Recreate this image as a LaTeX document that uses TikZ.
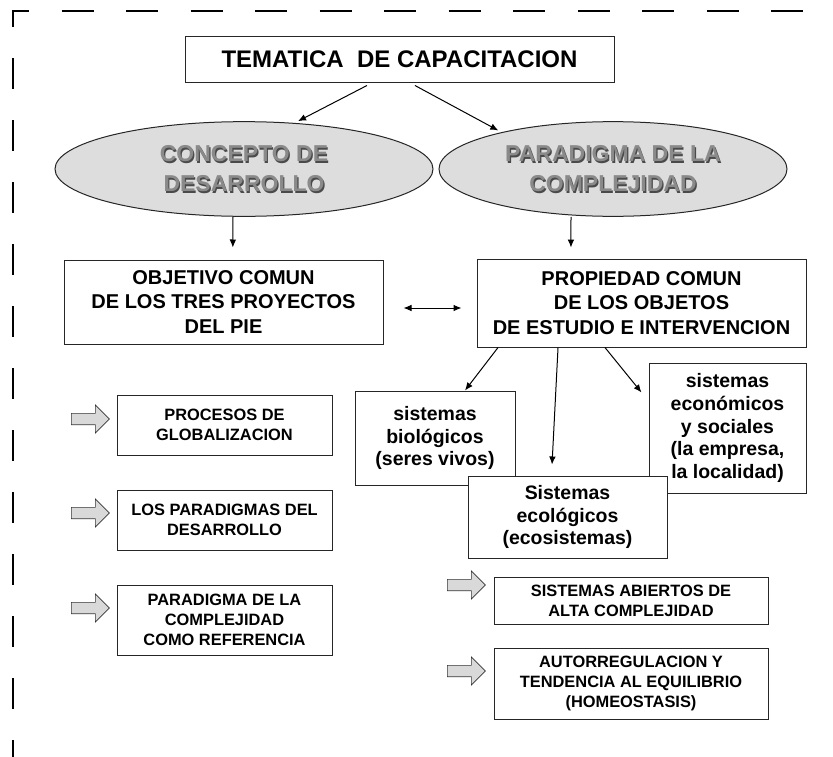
\documentclass[tikz,border=0pt]{standalone}
\usepackage{fontspec}
\setmainfont{Liberation Sans}
\usetikzlibrary{shapes,arrows.meta,calc}

\definecolor{bubblegray}{HTML}{DDDDDD}
\definecolor{labelgray}{HTML}{8A8A8A}
\definecolor{labelshade}{HTML}{4A4A4A}
\definecolor{arrowgray}{HTML}{D9D9D9}

% gray ellipse text with a dark drop shadow
\newcommand{\bubblelabel}[2]{%
  \node[shadetext] (#1-s) at ([xshift=0.9pt,yshift=-0.9pt]#1.center) {#2};
  \node[graytext] (#1-t) at (#1.center) {#2};}

\begin{document}
\begin{tikzpicture}[x=0.75pt,y=-0.75pt,
    box/.style={draw=black!85,line width=0.75pt,fill=white,align=center,inner sep=0pt},
    bubble/.style={ellipse,draw=black!85,line width=0.75pt,fill=bubblegray,inner sep=0pt},
    graytext/.style={align=center,text=labelgray,font=\fontsize{17.25}{22.5}\selectfont\bfseries},
    shadetext/.style={align=center,text=labelshade,font=\fontsize{17.25}{22.5}\selectfont\bfseries},
    tfont/.style={font=\fontsize{18}{21}\selectfont\bfseries},
    mfont/.style={font=\fontsize{15}{18.5}\selectfont\bfseries},
    sfont/.style={font=\fontsize{14.6}{17}\selectfont\bfseries},
    xfont/.style={font=\fontsize{12.3}{15}\selectfont\bfseries},
    arr/.style={-{Latex[length=6pt,width=5pt]},line width=0.75pt},
    arr2/.style={{Latex[length=6pt,width=5pt]}-{Latex[length=6pt,width=5pt]},line width=0.75pt},
    garrow/.style={single arrow,draw=black!80,fill=arrowgray,line width=0.5pt,
      inner xsep=0pt,inner ysep=4pt,minimum height=28.5pt,
      single arrow head extend=6.25pt,single arrow head indent=0pt},
    frame/.style={line width=1.5pt}]
    \useasboundingbox (0,0) rectangle (833,757);

    % dashed frame
    \draw[frame,dash pattern=on 24pt off 24.4pt] (13,27) -- (13,11) -- (833,11);
    \draw[frame,dash pattern=on 23.25pt off 23.25pt,dash phase=23.25pt] (13,27) -- (13,757);

    \node[box,tfont,minimum width=321.75pt,minimum height=34.5pt] (tema) at (399.5,59) {TEMATICA\ \ DE CAPACITACION};

    \node[bubble,minimum width=283.5pt,minimum height=71pt] (desa) at (244,169) {};
    \node[bubble,minimum width=261pt,minimum height=71pt] (comp) at (613,169) {};
    \bubblelabel{desa}{CONCEPTO DE\\DESARROLLO}
    \bubblelabel{comp}{PARADIGMA DE LA\\COMPLEJIDAD}

    \node[box,mfont,minimum width=239.25pt,minimum height=63pt] (obj) at (223.5,302) {OBJETIVO COMUN\\DE LOS TRES PROYECTOS\\DEL PIE};
    \node[box,mfont,minimum width=246.75pt,minimum height=66pt] (prop) at (641.5,303) {PROPIEDAD COMUN\\DE LOS OBJETOS\\DE ESTUDIO E INTERVENCION};

    \node[box,sfont,minimum width=120pt,minimum height=70.5pt] (bio) at (435,438) {sistemas\\biológicos\\(seres vivos)};
    \node[box,sfont,minimum width=117.75pt,minimum height=97.5pt] (econ) at (727.5,428) {sistemas\\económicos\\y sociales\\(la empresa,\\la localidad)};
    \node[box,sfont,minimum width=149.25pt,minimum height=61.5pt] (eco) at (567.5,517) {Sistemas\\ecológicos\\(ecosistemas)};

    \node[box,xfont,minimum width=161.25pt,minimum height=45pt] (glob) at (224.5,425) {PROCESOS DE\\GLOBALIZACION};
    \node[box,xfont,minimum width=161.25pt,minimum height=45pt] (para) at (224.5,520) {LOS PARADIGMAS DEL\\DESARROLLO};
    \node[box,xfont,minimum width=161.25pt,minimum height=52.5pt] (refe) at (224.5,620) {PARADIGMA DE LA\\COMPLEJIDAD\\COMO REFERENCIA};

    \node[box,xfont,minimum width=205.5pt,minimum height=35.25pt] (abier) at (631,600.5) {SISTEMAS ABIERTOS DE\\ALTA COMPLEJIDAD};
    \node[box,xfont,minimum width=205.5pt,minimum height=53.25pt] (homeo) at (631,683.5) {AUTORREGULACION Y\\TENDENCIA AL EQUILIBRIO\\(HOMEOSTASIS)};

    \node[garrow] (g1) at (87.5,419) {};
    \node[garrow] (g2) at (87.5,513) {};
    \node[garrow] (g3) at (87.5,608) {};
    \node[garrow] (g4) at (463.5,585) {};
    \node[garrow] (g5) at (463.5,671) {};

    \draw[arr] ([xshift=-24.4pt,yshift=-2.25pt]tema.south) -- ([xshift=40.5pt]desa.north);
    \draw[arr] ([xshift=11.6pt,yshift=-2.25pt]tema.south) -- ([xshift=-86pt,yshift=-7pt]comp.north);
    \draw[arr] ([xshift=-8.25pt]desa.south) -- ([xshift=7pt,yshift=9pt]obj.north);
    \draw[arr] ([xshift=-31.5pt]comp.south) -- ([xshift=-52.9pt,yshift=8.25pt]prop.north);
    \draw[arr2] ([xshift=15pt,yshift=-4.5pt]obj.east) -- ([xshift=-11.25pt,yshift=-3.75pt]prop.west);
    \draw[arr] ([xshift=-107.6pt]prop.south) -- ([xshift=22.5pt]bio.north);
    \draw[arr] ([xshift=-62.6pt]prop.south) -- ([xshift=-11.6pt,yshift=8.25pt]eco.north);
    \draw[arr] ([xshift=-27.4pt]prop.south) -- ([xshift=-5.25pt,yshift=-22.5pt]econ.north west);
\end{tikzpicture}
\end{document}
